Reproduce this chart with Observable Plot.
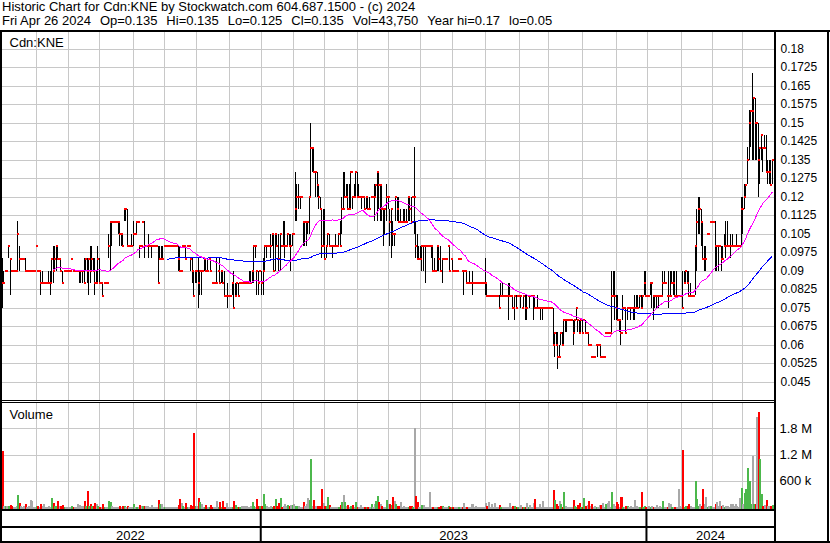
<!DOCTYPE html>
<html><head><meta charset="utf-8">
<script src="https://cdn.jsdelivr.net/npm/d3@7"></script>
<script src="https://cdn.jsdelivr.net/npm/@observablehq/plot@0.6"></script>
<style>
html,body{margin:0;padding:0;background:#fff;}
#chart{position:relative;width:830px;height:543px;overflow:hidden;font-family:"Liberation Sans",Arial,sans-serif;color:#000;background:#fff;}
.hdr{position:absolute;left:2px;font-size:13px;line-height:14px;white-space:pre;}
.hdr .g{margin-left:9px;}
.abs{position:absolute;left:0;}
.b{position:absolute;background:#000;}
svg{display:block;}
</style></head><body>
<div id="chart">
  <div class="hdr" style="top:0px">Historic Chart for Cdn:KNE by Stockwatch.com 604.687.1500 - (c) 2024</div>
  <div class="hdr" style="top:14px"><span>Fri Apr 26 2024</span><span class="g">Op=0.135</span><span class="g">Hi=0.135</span><span class="g">Lo=0.125</span><span class="g">Cl=0.135</span><span class="g">Vol=43,750</span><span class="g">Year hi=0.17</span><span class="g">lo=0.05</span></div>
  <div id="price" class="abs" style="top:30px"></div>
  <div id="vol" class="abs" style="top:402px"></div>
  <div id="years" class="abs" style="top:511px"></div>
  <div class="b" style="left:0;top:30px;width:830px;height:2px"></div>
  <div class="b" style="left:0;top:30px;width:2px;height:513px"></div>
  <div class="b" style="left:827px;top:30px;width:2px;height:513px"></div>
  <div class="b" style="left:774px;top:30px;width:2px;height:513px"></div>
  <div class="b" style="left:0;top:400px;width:776px;height:1px"></div>
  <div class="b" style="left:0;top:402px;width:776px;height:1px"></div>
  <div class="b" style="left:0;top:509px;width:776px;height:2px"></div>
  <div class="b" style="left:0;top:526px;width:776px;height:2px"></div>
  <div class="b" style="left:0;top:541px;width:830px;height:2px"></div>
</div>
<script>
// ---- data: [high, low, close, volume (thousands)] per trading day ----
const bars2022 = [
[.095,.095,.095,40],[.095,.075,.085,1270],[.09,.085,.085,25],[.09,.09,.09,20],[.09,.09,.09,15],
[.1,.095,.1,30],[.095,.08,.095,45],[.09,.09,.09,20],[.09,.09,.09,10],[.09,.09,.09,10],
[.09,.09,.09,15],[.11,.09,.105,280],[.1,.09,.095,90],[.095,.095,.095,15],[.095,.095,.095,10],
[.095,.095,.095,20],[.095,.09,.09,70],[.09,.09,.09,10],[.09,.09,.09,15],[.09,.09,.09,170],
[.09,.09,.09,130],[.09,.09,.09,10],[.09,.09,.09,10],[.1,.1,.1,25],[.09,.09,.09,20],
[.09,.09,.09,10],[.09,.08,.085,80],[.09,.085,.085,15],[.085,.085,.085,60],[.085,.085,.085,10],
[.085,.085,.085,10],[.09,.085,.085,20],[.09,.08,.085,10],[.095,.085,.095,205],[.1,.085,.09,90],
[.1,.09,.095,20],[.1,.09,.1,15],[.1,.095,.095,145],[.095,.095,.095,20],[.095,.09,.09,15],
[.09,.085,.085,40],[.09,.09,.09,10],[.09,.09,.09,10],[.09,.09,.09,5],[.09,.09,.09,10],
[.09,.09,.09,5],[.095,.095,.095,15],[.09,.09,.09,10],[.09,.09,.09,10],[.09,.09,.09,10],
[.09,.09,.09,60],[.09,.085,.09,40],[.09,.085,.09,20],[.09,.085,.09,15],[.095,.085,.085,145],
[.095,.09,.095,30],[.095,.085,.09,370],[.095,.08,.095,20],[.1,.085,.09,70],[.1,.09,.095,20],
[.095,.09,.09,15],[.095,.08,.085,90],[.09,.085,.085,60],[.1,.085,.095,15],[.095,.085,.085,10],
[.085,.085,.085,10],[.085,.08,.08,70],[.085,.085,.085,10],[.085,.085,.085,10],[.085,.085,.085,10],
[.105,.095,.1,130],[.11,.09,.11,110],[.11,.1,.11,20],[.11,.11,.11,10],[.11,.11,.11,10],
[.11,.11,.11,10],[.11,.105,.11,10],[.11,.1,.105,20],[.105,.1,.105,10],[.105,.1,.1,15],
[.115,.11,.115,20],[.115,.11,.115,10],[.115,.1,.1,15],[.1,.1,.1,10],[.1,.1,.1,10],
[.105,.1,.1,10],[.11,.1,.105,60],[.105,.105,.105,10],[.11,.105,.11,10],[.11,.11,.11,10],
[.1,.095,.1,45],[.1,.1,.1,30],[.11,.11,.11,30],[.11,.095,.1,30],[.1,.1,.1,25],
[.1,.1,.1,20],[.105,.095,.1,10],[.1,.1,.1,10],[.1,.095,.1,35],[.1,.1,.1,10],
[.1,.1,.1,10],[.1,.1,.1,10],[.1,.085,.085,165],[.1,.095,.095,70],[.1,.095,.095,60],
[.1,.095,.095,10],[.1,.1,.1,10],[.1,.1,.1,10],[.1,.1,.1,5],[.1,.1,.1,10],
[.1,.1,.1,5],[.1,.1,.1,10],[.1,.1,.1,10],[.1,.1,.1,5],[.1,.1,.1,5],
[.1,.09,.095,40],[.1,.09,.09,190],[.09,.09,.09,100],[.1,.1,.1,30],[.1,.1,.1,10],
[.1,.095,.095,100],[.1,.1,.1,10],[.1,.1,.1,10],[.095,.09,.095,45],[.095,.085,.09,20],
[.09,.08,.08,1690],[.09,.085,.09,15],[.09,.085,.09,15],[.095,.075,.085,205],[.09,.08,.09,115],
[.09,.08,.09,60],[.09,.09,.09,10],[.095,.09,.095,10],[.095,.09,.09,35],[.095,.09,.09,10],
[.095,.095,.095,10],[.095,.09,.09,40],[.085,.085,.085,10],[.085,.085,.085,10],[.085,.085,.085,10],
[.095,.085,.085,130],[.09,.09,.09,10],[.095,.085,.085,105],[.09,.085,.09,10],[.09,.085,.085,130],
[.09,.08,.08,10],[.08,.08,.08,100],[.085,.075,.08,10],[.08,.08,.08,10],[.08,.08,.08,5],
[.085,.08,.085,10],[.09,.075,.075,145],[.085,.08,.08,45],[.085,.08,.085,10],[.085,.08,.08,10],
[.085,.085,.085,10],[.085,.085,.085,30],[.085,.085,.085,30],[.085,.085,.085,30],[.085,.085,.085,20],
[.085,.085,.085,10],[.09,.085,.085,10],[.09,.085,.085,15],[.09,.085,.09,115],[.1,.085,.1,20],
[.1,.095,.1,10],[.09,.08,.09,180],[.09,.08,.085,20],[.09,.09,.09,20]
];
const bars2023 = [
[.09,.08,.085,20],[.095,.08,.09,300],[.1,.09,.1,60],[.1,.095,.1,20],[.1,.1,.1,10],
[.1,.1,.1,10],[.105,.095,.1,15],[.105,.1,.105,10],[.105,.09,.09,30],[.105,.09,.105,190],
[.105,.1,.1,30],[.105,.09,.095,100],[.105,.09,.105,205],[.1,.1,.1,10],[.11,.1,.1,30],
[.11,.095,.1,60],[.1,.1,.1,25],[.105,.1,.105,40],[.105,.1,.1,15],[.105,.09,.1,45],
[.105,.1,.105,40],[.105,.105,.105,60],[.13,.11,.115,30],[.125,.11,.12,20],[.125,.115,.12,20],
[.12,.115,.12,10],[.12,.12,.12,10],[.11,.1,.11,110],[.11,.1,.11,15],[.11,.1,.11,65],
[.11,.105,.11,205],[.12,.105,.12,167],[.15,.12,.14,1090],[.14,.13,.14,20],[.14,.13,.13,160],
[.13,.12,.13,20],[.13,.12,.125,30],[.125,.115,.12,20],[.12,.115,.115,20],[.115,.095,.1,418],
[.115,.1,.1,100],[.115,.095,.095,20],[.1,.095,.1,25],[.105,.1,.105,228],[.105,.1,.1,45],
[.1,.1,.1,10],[.1,.095,.1,10],[.1,.1,.1,10],[.105,.1,.1,10],[.1,.1,.1,10],
[.105,.1,.105,10],[.11,.1,.1,45],[.12,.105,.115,115],[.13,.115,.115,280],[.13,.12,.12,115],
[.125,.12,.12,20],[.125,.115,.115,45],[.125,.115,.115,10],[.13,.115,.13,20],[.12,.115,.12,45],
[.125,.12,.12,10],[.13,.12,.13,115],[.13,.12,.12,10],[.125,.12,.12,10],[.12,.12,.12,40],
[.12,.115,.12,10],[.12,.12,.12,10],[.12,.115,.115,10],[.12,.115,.12,10],[.12,.115,.115,10],
[.12,.115,.115,10],[.12,.12,.12,60],[.12,.12,.12,10],[.125,.11,.12,60],[.125,.12,.125,130],
[.13,.11,.13,260],[.13,.115,.125,115],[.125,.11,.125,60],[.125,.11,.115,20],[.115,.1,.115,10],
[.115,.105,.115,10],[.125,.11,.12,167],[.12,.115,.12,60],[.115,.1,.11,60],[.115,.095,.115,45],
[.11,.1,.105,235],[.105,.1,.105,130],[.12,.11,.12,60],[.12,.11,.115,20],[.12,.11,.11,20],
[.115,.11,.11,115],[.11,.11,.11,10],[.115,.11,.11,30],[.115,.11,.11,10],[.115,.11,.11,10],
[.12,.11,.12,10],[.12,.11,.115,30],[.12,.11,.11,20],[.12,.12,.12,10],[.14,.105,.12,1800],
[.11,.095,.1,258],[.105,.095,.095,115],[.1,.095,.095,10],[.1,.095,.095,10],[.1,.09,.1,45],
[.1,.09,.1,45],[.1,.085,.1,10],[.1,.1,.1,10],[.1,.1,.1,10],[.1,.1,.1,340],
[.1,.095,.1,10],[.1,.09,.09,10],[.095,.09,.09,10],[.09,.09,.09,10],[.1,.09,.1,10],
[.1,.09,.095,10],[.1,.09,.09,20],[.095,.085,.095,20],[.095,.095,.095,10],[.095,.095,.095,10],
[.095,.095,.095,10],[.1,.1,.1,20],[.1,.09,.09,10],[.095,.095,.095,10],[.095,.09,.09,10],
[.09,.09,.09,10],[.09,.09,.09,10],[.09,.09,.09,10],[.095,.095,.095,10],[.095,.095,.095,10],
[.09,.09,.09,10],[.09,.08,.09,90],[.09,.09,.09,10],[.09,.085,.085,10],[.085,.085,.085,10],
[.09,.085,.085,10],[.085,.085,.085,70],[.09,.08,.085,70],[.085,.085,.085,10],[.085,.085,.085,30],
[.085,.085,.085,10],[.085,.085,.085,10],[.085,.085,.085,10],[.085,.085,.085,10],[.085,.085,.085,10],
[.095,.08,.085,90],[.085,.08,.08,20],[.08,.08,.08,115],[.08,.08,.08,10],[.08,.08,.08,70],
[.08,.08,.08,10],[.08,.08,.08,100],[.08,.08,.08,10],[.08,.08,.08,10],[.08,.075,.075,50],
[.085,.08,.08,10],[.085,.08,.08,10],[.08,.08,.08,10],[.08,.08,.08,10],[.08,.08,.08,10],
[.085,.07,.08,10],[.085,.08,.08,90],[.08,.08,.08,10],[.08,.075,.075,20],[.08,.07,.08,30],
[.08,.075,.075,10],[.08,.08,.08,10],[.08,.08,.08,10],[.08,.075,.08,50],[.075,.075,.075,10],
[.08,.075,.08,10],[.08,.07,.075,10],[.08,.07,.075,90],[.08,.08,.08,10],[.08,.075,.08,50],
[.08,.08,.08,10],[.08,.07,.08,90],[.08,.075,.075,180],[.075,.075,.075,10],[.08,.075,.075,10],
[.075,.075,.075,70],[.075,.07,.075,10],[.075,.07,.075,140],[.075,.075,.075,10],[.075,.075,.075,10],
[.075,.075,.075,10],[.075,.075,.075,10],[.075,.075,.075,10],[.075,.075,.075,10],[.075,.06,.06,380],
[.065,.055,.065,167],[.065,.06,.06,70],[.065,.05,.055,15],[.06,.055,.055,130],[.065,.06,.065,70],
[.065,.06,.06,10],[.07,.06,.07,340],[.07,.065,.07,20],[.07,.065,.07,10],[.07,.07,.07,10],
[.07,.07,.07,10],[.07,.07,.07,10],[.07,.06,.065,160],[.07,.065,.07,20],[.075,.07,.075,10],
[.07,.065,.07,45],[.07,.065,.065,90],[.07,.065,.07,10],[.07,.065,.065,10],[.07,.07,.07,205],
[.07,.065,.065,30],[.065,.065,.065,50],[.065,.06,.06,130],[.06,.06,.06,30],[.055,.055,.055,70],
[.055,.055,.055,10],[.055,.055,.055,20],[.06,.06,.06,10],[.06,.055,.06,10],[.06,.06,.06,40],
[.06,.055,.055,50],[.055,.055,.055,90],[.055,.055,.055,10],[.065,.065,.065,60],[.065,.065,.065,90],
[.065,.065,.065,130],[.065,.065,.065,10],[.09,.065,.08,340],[.09,.08,.08,70],[.09,.07,.08,20],
[.08,.07,.075,105],[.08,.07,.07,70],[.07,.065,.07,10],[.07,.06,.065,235],[.08,.07,.075,10],
[.075,.075,.075,10],[.075,.065,.065,20],[.075,.07,.075,20],[.075,.075,.075,10],[.075,.07,.075,20],
[.075,.075,.075,10],[.075,.07,.075,10],[.08,.07,.075,160],[.08,.075,.075,20],[.08,.075,.075,10],
[.08,.075,.08,10],[.08,.075,.075,340],[.08,.075,.08,10],[.09,.08,.085,20],[.09,.08,.08,10]
];
const bars2024 = [
[.08,.08,.08,10],[.08,.08,.08,20],[.085,.08,.085,10],[.085,.075,.085,20],[.08,.07,.08,10],
[.08,.075,.08,10],[.08,.075,.08,45],[.08,.075,.08,10],[.08,.08,.08,30],[.08,.08,.08,10],
[.09,.08,.085,130],[.09,.085,.085,10],[.085,.085,.085,10],[.08,.08,.08,10],[.09,.075,.08,90],
[.09,.08,.08,70],[.09,.085,.085,10],[.09,.08,.085,10],[.09,.08,.08,10],[.09,.08,.08,10],
[.08,.08,.08,418],[.08,.08,.08,20],[.08,.08,.08,10],[.09,.075,.075,1310],[.09,.085,.085,10],
[.09,.085,.09,20],[.09,.085,.085,20],[.09,.08,.08,70],[.085,.08,.08,20],[.08,.08,.08,10],
[.08,.08,.08,10],[.1,.08,.1,585],[.115,.09,.11,180],[.12,.105,.115,20],[.12,.105,.115,70],
[.115,.1,.11,20],[.11,.095,.095,410],[.1,.09,.095,70],[.1,.09,.095,228],[.105,.105,.105,10],
[.105,.105,.105,20],[.11,.11,.11,20],[.11,.11,.11,10],[.11,.11,.11,10],[.11,.09,.1,60],
[.1,.09,.1,115],[.1,.09,.1,30],[.1,.1,.1,130],[.1,.09,.095,20],[.1,.095,.095,50],
[.105,.1,.1,10],[.11,.095,.1,30],[.11,.1,.1,20],[.1,.1,.1,10],[.105,.095,.1,70],
[.105,.1,.1,70],[.1,.1,.1,20],[.1,.1,.1,70],[.105,.1,.1,30],[.1,.1,.1,10],
[.1,.1,.1,205],[.12,.1,.115,433],[.12,.105,.115,60],[.125,.115,.12,320],[.125,.12,.125,418],
[.14,.125,.135,890],[.155,.135,.15,585],[.155,.14,.155,60],[.17,.135,.155,1160],[.16,.135,.16,60],
[.16,.135,.15,60],[.15,.135,.15,2050],[.15,.12,.135,2170],[.14,.125,.14,1090],[.145,.135,.145,300],
[.14,.13,.14,20],[.145,.14,.14,40],[.145,.13,.13,152],[.135,.125,.13,20],[.135,.125,.13,20],
[.135,.125,.125,30],[.135,.125,.135,44]
];
// trading-day index of the first bar of each month (vertical grid)
const monthStarts = [23,44,64,86,106,127,148,169,190,210,231,251,272,293,314,336,355,377,399,419,441,461,481];
const yearLabels = ["2022","2023","2024"];
const yearFirstBar = [0,169,419];
const priceTicks = [0.045,0.0525,0.06,0.0675,0.075,0.0825,0.09,0.0975,0.105,0.1125,0.12,0.1275,0.135,0.1425,0.15,0.1575,0.165,0.1725,0.18];
const volTicks = [600000,1200000,1800000];
const volTickLabels = ["600 k","1.2 M","1.8 M"];
const maShort = 35, maLong = 109;

// ---- build ----
const rows = [...bars2022, ...bars2023, ...bars2024].map(([hi, lo, cl, v], i) => ({i, hi, lo, cl, vol: v * 1000}));
rows.forEach((d, i) => { d.dir = i === 0 ? 0 : Math.sign(Math.round((d.cl - rows[i - 1].cl) * 10000)); });
const volColor = d => d.dir > 0 ? "#4cb84c" : d.dir < 0 ? "#ff0000" : "#a8a8a8";
function sma(k) {
  const out = [];
  for (let i = k - 1; i < rows.length; i++) out.push({i, v: d3.mean(rows.slice(i - k + 1, i + 1), d => d.cl)});
  return out;
}
const lastX = rows.length - 1;
const frameEnd = lastX + 1.5; // right frame edge in bar units
const yearBounds = yearFirstBar.slice(1).map(b => b - 0.5);
const yearMid = yearFirstBar.map((b, k) => ((b - 0.5) + (k + 1 < yearFirstBar.length ? yearFirstBar[k + 1] - 0.5 : frameEnd)) / 2);

const GRID = "#c8c8c8";
const crisp = "crispEdges";
const xs = {domain: [0, lastX], range: [0.27, 771.7], axis: null};
const common = {width: 830, marginLeft: 2, marginRight: 56, marginTop: 0, marginBottom: 0,
  style: {fontFamily: '"Liberation Sans", Arial, sans-serif', fontSize: "12px", background: "transparent", color: "#000", overflow: "visible"}};

const price = Plot.plot({
  ...common, height: 370,
  x: xs,
  y: {domain: [0.045, 0.18], range: [351.5, 18.5], axis: null},
  marks: [
    Plot.ruleY(priceTicks, {stroke: GRID, shapeRendering: crisp}),
    Plot.ruleX(monthStarts, {stroke: GRID, shapeRendering: crisp}),
    Plot.ruleX(rows, {x: "i", y1: "lo", y2: "hi", stroke: "#000", strokeWidth: 1, shapeRendering: crisp}),
    Plot.ruleY(rows, {y: "cl", x1: "i", x2: d => d.i + 1.3, stroke: "#ff0000", strokeWidth: 2, shapeRendering: crisp}),
    Plot.line(sma(maLong), {x: "i", y: "v", stroke: "#0000ff", strokeWidth: 1, shapeRendering: crisp}),
    Plot.line(sma(maShort), {x: "i", y: "v", stroke: "#ff00ff", strokeWidth: 1, shapeRendering: crisp}),
    Plot.text(priceTicks, {y: d => d, frameAnchor: "right", dx: 6, textAnchor: "start", text: d => String(+d.toFixed(4)), fontSize: 12}),
    Plot.text(["Cdn:KNE"], {frameAnchor: "top-left", dx: 7, dy: 7, lineAnchor: "top", textAnchor: "start", fontSize: 13})
  ]
});
document.getElementById("price").append(price);

const vol = Plot.plot({
  ...common, height: 107,
  x: xs,
  y: {domain: [0, 2400000], range: [105, 0], axis: null},
  color: {type: "identity"},
  marks: [
    Plot.ruleY(volTicks, {stroke: GRID, shapeRendering: crisp}),
    Plot.ruleX(monthStarts, {stroke: GRID, shapeRendering: crisp}),
    Plot.rect(rows, {x1: "i", x2: d => d.i + 1.3, y1: 0, y2: "vol", fill: volColor, insetBottom: -2, shapeRendering: crisp}),
    Plot.text(volTicks, {y: d => d, frameAnchor: "right", dx: 5, textAnchor: "start", text: (d, i) => volTickLabels[i], fontSize: 13}),
    Plot.text(["Volume"], {frameAnchor: "top-left", dx: 7, dy: 7, lineAnchor: "top", textAnchor: "start", fontSize: 13})
  ]
});
document.getElementById("vol").append(vol);

const years = Plot.plot({
  ...common, height: 30,
  x: xs,
  marks: [
    Plot.ruleX(yearBounds, {stroke: "#000", strokeWidth: 2}),
    Plot.text(yearLabels, {x: (d, i) => yearMid[i], frameAnchor: "bottom", dy: -1.5, lineAnchor: "bottom", fontSize: 13})
  ]
});
document.getElementById("years").append(years);
</script>
</body></html>
